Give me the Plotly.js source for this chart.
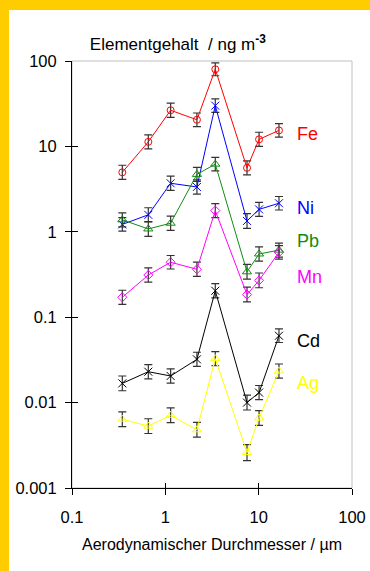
<!DOCTYPE html>
<html>
<head>
<meta charset="utf-8">
<script src="https://cdn.plot.ly/plotly-3.0.1.min.js"></script>
<style>
  html, body { margin:0; padding:0; background:#ffcc00; width:370px; height:571px; overflow:hidden; }
  #chart { position:absolute; left:9px; top:10px; width:361px; height:561px; background:#fff; }
</style>
</head>
<body>
<div id="chart"></div>
<script>
// Aerodynamic diameter (µm) of impactor stages
const diameter = [0.346, 0.657, 1.14, 2.18, 3.43, 7.5, 10.1, 16.5];

// Element concentrations / ng m^-3
const Fe = [4.97, 11.3, 26.5, 20.5, 80, 5.6, 12.1, 15.4];
const Ni = [1.22, 1.58, 3.7, 3.35, 30, 1.34, 1.83, 2.16];
const Pb = [1.38, 1.08, 1.26, 4.7, 6.2, 0.34, 0.55, 0.61];
const Mn = [0.171, 0.312, 0.44, 0.364, 1.77, 0.184, 0.27, 0.575];
const Cd = [0.0168, 0.023, 0.0205, 0.0321, 0.204, 0.0100, 0.0131, 0.0607];
const Ag = [0.0064, 0.0053, 0.0071, 0.0048, 0.0327, 0.0026, 0.0066, 0.0234];

// Error-bar factors (bar ends at value*f and value/f)
const errFe = [1.21, 1.21, 1.21, 1.20, 1.19, 1.21, 1.21, 1.20];
const errNi = [1.20, 1.21, 1.21, 1.21, 1.20, 1.22, 1.21, 1.20];
const errPb = [1.21, 1.22, 1.21, 1.21, 1.20, 1.22, 1.21, 1.21];
const errMn = [1.21, 1.21, 1.20, 1.21, 1.21, 1.22, 1.22, 1.20];
const errCd = [1.22, 1.21, 1.21, 1.21, 1.21, 1.22, 1.21, 1.20];
const errAg = [1.22, 1.22, 1.22, 1.22, 1.21, 1.24, 1.22, 1.21];

const xTickVals = [0.1, 1, 10, 100];
const xTickText = ['0.1', '1', '10', '100'];
const yTickVals = [0.001, 0.01, 0.1, 1, 10, 100];
const yTickText = ['0.001', '0.01', '0.1', '1', '10', '100'];

const labels = ['Fe', 'Ni', 'Pb', 'Mn', 'Cd', 'Ag'];
const labelLogY = [1.145, 0.279, -0.104, -0.526, -1.279, -1.774];

const FONT = 'Liberation Sans, Arial, Helvetica, sans-serif';

function series(name, y, f, color, symbol, size) {
  return {
    type: 'scatter', mode: 'lines+markers', name: name,
    x: diameter, y: y,
    line: { color: color, width: 1 },
    marker: { symbol: symbol, size: size, color: color, line: { color: color, width: 1 } },
    error_y: {
      type: 'data', symmetric: false,
      array: y.map((v, i) => v * (f[i] - 1)),
      arrayminus: y.map((v, i) => v * (1 - 1 / f[i])),
      color: '#333', thickness: 1.2, width: 4
    },
    showlegend: false, cliponaxis: false
  };
}

const colors = ['#ff0000', '#0000ff', '#108c10', '#ff00ff', '#000000', '#ffff00'];

const traces = [
  series('Fe', Fe, errFe, colors[0], 'circle-open', 7),
  series('Ni', Ni, errNi, colors[1], 'x-thin-open', 8),
  series('Pb', Pb, errPb, colors[2], 'triangle-up-open', 8),
  series('Mn', Mn, errMn, colors[3], 'diamond-open', 7),
  series('Cd', Cd, errCd, colors[4], 'x-thin-open', 8),
  series('Ag', Ag, errAg, colors[5], 'triangle-up-open', 8),
  { type: 'scatter', x: [], y: [], xaxis: 'x2', yaxis: 'y2', showlegend: false, hoverinfo: 'skip' }
];

const annotations = labels.map((t, i) => ({
  text: t, x: 1.39, y: labelLogY[i], xref: 'x', yref: 'y',
  xanchor: 'left', yanchor: 'middle', showarrow: false,
  font: { family: FONT, size: 18, color: colors[i] }
}));

const layout = {
  width: 361, height: 561,
  margin: { l: 63, r: 18, t: 51, b: 83 },
  paper_bgcolor: '#ffffff', plot_bgcolor: '#ffffff',
  font: { family: FONT, size: 16, color: '#000' },
  title: {
    text: 'Elementgehalt&nbsp; / ng m<sup><b>-3</b></sup>',
    font: { family: FONT, size: 17, color: '#000' },
    xref: 'container', yref: 'container',
    x: 0.224, xanchor: 'left', y: 0.939, yanchor: 'middle'
  },
  xaxis: {
    type: 'log', range: [-1, 2],
    tickvals: xTickVals, ticktext: xTickText,
    ticks: 'outside', ticklen: 6, tickwidth: 1, tickcolor: '#000',
    showline: true, linecolor: '#000', linewidth: 1,
    showgrid: false, zeroline: false,
    tickfont: { family: FONT, size: 16.5 },
    ticklabelstandoff: 8,
    title: { text: 'Aerodynamischer Durchmesser / µm', font: { family: FONT, size: 16 }, standoff: 14 }
  },
  yaxis: {
    type: 'log', range: [-3, 2],
    tickvals: yTickVals, ticktext: yTickText,
    ticks: 'outside', ticklen: 6, tickwidth: 1, tickcolor: '#000',
    showline: true, linecolor: '#000', linewidth: 1,
    showgrid: false, zeroline: false,
    tickfont: { family: FONT, size: 16.5 },
    ticklabelstandoff: 5
  },
  xaxis2: {
    type: 'log', range: [-1, 2], overlaying: 'x', anchor: 'y2', side: 'bottom',
    tickvals: xTickVals, showticklabels: false,
    ticks: 'inside', ticklen: 5, tickwidth: 1, tickcolor: '#000',
    showline: false, showgrid: false, zeroline: false
  },
  yaxis2: {
    type: 'log', range: [-3, 2], overlaying: 'y', anchor: 'x2', side: 'left',
    tickvals: yTickVals, showticklabels: false,
    ticks: 'inside', ticklen: 6, tickwidth: 1, tickcolor: '#000',
    showline: false, showgrid: false, zeroline: false
  },
  shapes: [{
    type: 'rect', xref: 'paper', yref: 'paper', x0: 0, x1: 1, y0: 0, y1: 1,
    line: { color: '#c0c0c0', width: 1 }, layer: 'below'
  }],
  annotations: annotations
};

Plotly.newPlot('chart', traces, layout, { staticPlot: true, displayModeBar: false });
</script>
</body>
</html>
